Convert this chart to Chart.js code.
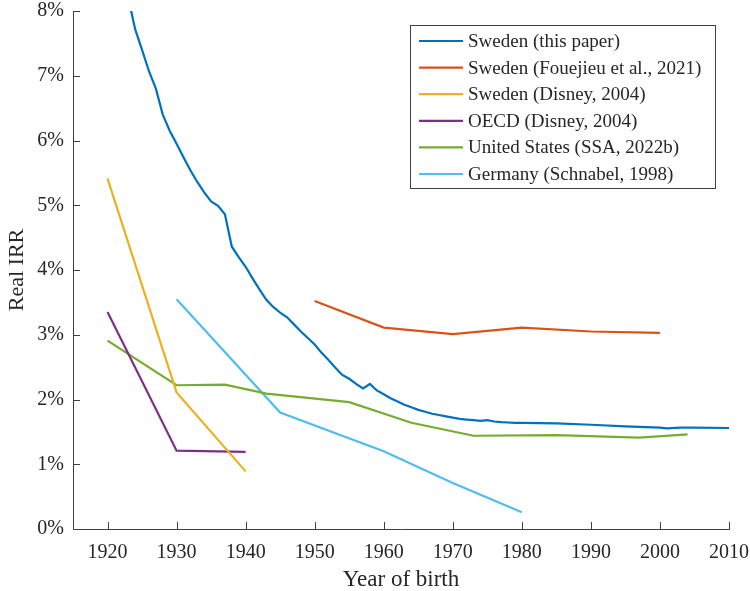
<!DOCTYPE html>
<html>
<head>
<meta charset="utf-8">
<script src="https://cdn.jsdelivr.net/npm/chart.js@4.4.1/dist/chart.umd.min.js"></script>
<style>
  html, body { margin: 0; padding: 0; background: #fff; }
  #wrap { width: 750px; height: 591px; }
</style>
</head>
<body>
<div id="wrap"><canvas id="irrChart"></canvas></div>
<script>
// Data (real IRR in %, by year of birth)
const swedenPaperYears = [1923, 1924, 1925, 1926, 1927, 1928, 1929, 1930, 1931, 1932, 1933, 1934, 1935, 1936, 1937, 1938, 1939, 1940,
  1941, 1942, 1943, 1944, 1945, 1946, 1947, 1948, 1949, 1950, 1951, 1952, 1953, 1954, 1955, 1956, 1957, 1958, 1959, 1960,
  1961, 1962, 1963, 1964, 1965, 1966, 1967, 1968, 1969, 1970, 1971, 1972, 1973, 1974, 1975, 1976, 1977, 1978, 1979, 1980,
  1985, 1990, 1995, 2000, 2001, 2003, 2005, 2010];
const swedenPaperValues = [8.2, 7.72, 7.4, 7.07, 6.8, 6.4, 6.15, 5.95, 5.74, 5.54, 5.36, 5.2, 5.06, 4.99, 4.86, 4.36, 4.2, 4.05,
  3.87, 3.7, 3.54, 3.43, 3.34, 3.27, 3.16, 3.05, 2.95, 2.85, 2.72, 2.61, 2.49, 2.38, 2.32, 2.24, 2.17, 2.24, 2.14, 2.08,
  2.02, 1.97, 1.92, 1.88, 1.84, 1.81, 1.78, 1.76, 1.74, 1.72, 1.70, 1.69, 1.68, 1.67, 1.68, 1.66, 1.65, 1.645, 1.64, 1.64,
  1.63, 1.61, 1.585, 1.565, 1.555, 1.565, 1.565, 1.56];

const fouejieuYears = [1950, 1960, 1970, 1980, 1990, 2000];
const fouejieuValues = [3.52, 3.11, 3.01, 3.11, 3.05, 3.03];

const disneySwedenYears = [1920, 1930, 1940];
const disneySwedenValues = [5.41, 2.11, 0.89];

const disneyOecdYears = [1920, 1930, 1940];
const disneyOecdValues = [3.35, 1.21, 1.19];

const ssaYears = [1920, 1930, 1937, 1943, 1955, 1964, 1973, 1985, 1997, 2004];
const ssaValues = [2.91, 2.22, 2.23, 2.09, 1.96, 1.64, 1.44, 1.45, 1.41, 1.46];

const schnabelYears = [1930, 1945, 1960, 1970, 1980];
const schnabelValues = [3.55, 1.80, 1.20, 0.71, 0.26];

const seriesLabels = ['Sweden (this paper)', 'Sweden (Fouejieu et al., 2021)', 'Sweden (Disney, 2004)',
  'OECD (Disney, 2004)', 'United States (SSA, 2022b)', 'Germany (Schnabel, 1998)'];
const seriesColors = ['#0072BD', '#D95319', '#EDB120', '#7E2F8E', '#77AC30', '#4DBEEE'];

const xTickValues = [1920, 1930, 1940, 1950, 1960, 1970, 1980, 1990, 2000, 2010];
const yTickValues = [0, 1, 2, 3, 4, 5, 6, 7, 8];

const FONT = '"Liberation Serif", "DejaVu Serif", serif';
const TEXT = '#262626';
const AXIS = '#404040';

function toPoints(xs, ys) {
  return xs.map((x, i) => ({ x: x, y: ys[i] }));
}

const allSeries = [
  [swedenPaperYears, swedenPaperValues],
  [fouejieuYears, fouejieuValues],
  [disneySwedenYears, disneySwedenValues],
  [disneyOecdYears, disneyOecdValues],
  [ssaYears, ssaValues],
  [schnabelYears, schnabelValues]
];

const datasets = allSeries.map((s, i) => ({
  label: seriesLabels[i],
  data: toPoints(s[0], s[1]),
  borderColor: seriesColors[i],
  backgroundColor: seriesColors[i],
  borderWidth: 2.2,
  pointRadius: 0,
  tension: 0,
  fill: false
}));

// inward tick marks, like the original
const innerTicks = {
  id: 'innerTicks',
  afterDraw(chart) {
    const c = chart.ctx, a = chart.chartArea;
    const xs = chart.scales.x, ys = chart.scales.y;
    c.save();
    c.strokeStyle = AXIS;
    c.lineWidth = 1;
    xs.ticks.forEach(t => {
      const px = Math.round(xs.getPixelForValue(t.value)) + 0.5;
      c.beginPath(); c.moveTo(px, a.bottom); c.lineTo(px, a.bottom - 7); c.stroke();
    });
    ys.ticks.forEach(t => {
      const py = Math.round(ys.getPixelForValue(t.value)) + 0.5;
      c.beginPath(); c.moveTo(a.left, py); c.lineTo(a.left + 7, py); c.stroke();
    });
    c.restore();
  }
};

// boxed legend in the upper right corner
const boxLegend = {
  id: 'boxLegend',
  afterDraw(chart) {
    const c = chart.ctx;
    const bx = 410, by = 25, bw = 305, bh = 163;
    c.save();
    c.fillStyle = '#fff';
    c.fillRect(bx, by, bw, bh);
    c.strokeStyle = AXIS;
    c.lineWidth = 1;
    c.strokeRect(bx + 0.5, by + 0.5, bw, bh);
    c.font = '19px ' + FONT;
    c.textBaseline = 'middle';
    chart.data.datasets.forEach((ds, i) => {
      const y = by + 16 + i * 26.6;
      c.strokeStyle = ds.borderColor;
      c.lineWidth = 2.2;
      c.beginPath(); c.moveTo(bx + 9, y); c.lineTo(bx + 53, y); c.stroke();
      c.fillStyle = TEXT;
      c.fillText(ds.label, bx + 58, y + 1);
    });
    c.restore();
  }
};

new Chart(document.getElementById('irrChart'), {
  type: 'line',
  data: { datasets: datasets },
  plugins: [innerTicks, boxLegend],
  options: {
    responsive: true,
    maintainAspectRatio: false,
    animation: false,
    layout: { padding: { top: 11, right: 21, bottom: 0, left: 0 } },
    plugins: { legend: { display: false }, tooltip: { enabled: false } },
    scales: {
      x: {
        type: 'linear',
        min: 1915,
        max: 2010,
        afterBuildTicks: s => { s.ticks = xTickValues.map(v => ({ value: v })); },
        afterFit: s => { s.height = 62; s.paddingLeft = 0; s.paddingRight = 0; },
        grid: { display: false, drawTicks: false },
        border: { display: true, color: AXIS, width: 1 },
        ticks: { color: TEXT, font: { family: FONT, size: 20 }, padding: 12, maxRotation: 0, autoSkip: false,
          callback: v => String(v) },
        title: { display: true, text: 'Year of birth', color: TEXT, font: { family: FONT, size: 23 }, padding: { top: 4, bottom: -3 } }
      },
      y: {
        min: 0,
        max: 8,
        afterBuildTicks: s => { s.ticks = yTickValues.map(v => ({ value: v })); },
        afterFit: s => { s.width = 73; s.paddingTop = 0; s.paddingBottom = 0; },
        grid: { display: false, drawTicks: false },
        border: { display: true, color: AXIS, width: 1 },
        ticks: { color: TEXT, font: { family: FONT, size: 20 }, padding: 9, callback: v => v + '%' },
        title: { display: true, text: 'Real IRR', color: TEXT, font: { family: FONT, size: 22 }, padding: { bottom: 3 } }
      }
    }
  }
});
</script>
</body>
</html>
